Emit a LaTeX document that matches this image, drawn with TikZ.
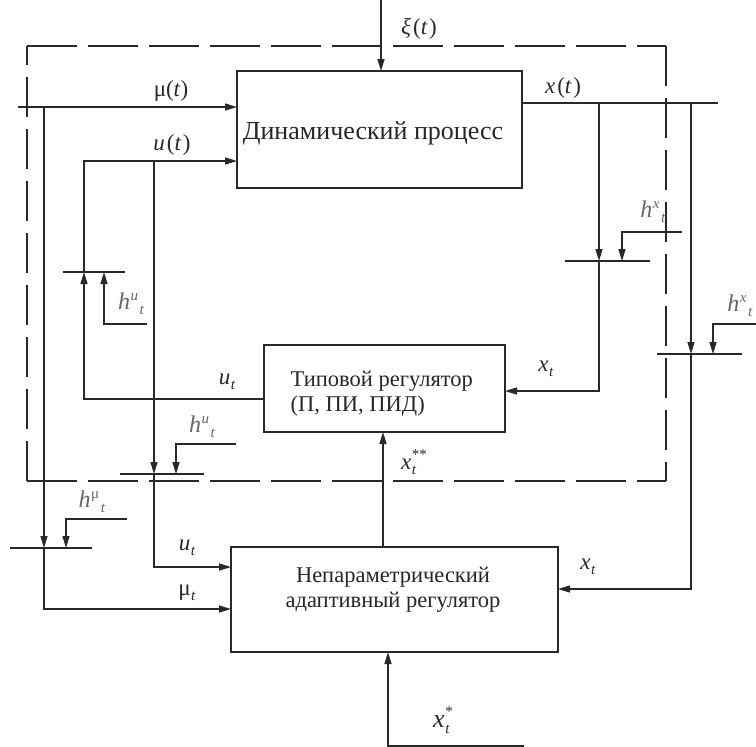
\documentclass[tikz,border=0pt]{standalone}
\usepackage{fontspec}
\setmainfont{Liberation Serif}
\usetikzlibrary{arrows.meta}
\newcommand\smallfnt{\fontsize{15}{15}\selectfont}
\newcommand\hsym[1]{\textit{h}\kern0.5pt\raisebox{0.8ex}{\smallfnt\textit{#1}}\kern1.5pt\raisebox{-0.45ex}{\smallfnt\textit{t}}}
\newcommand\subt[1]{#1\kern0.5pt\raisebox{-0.45ex}{\smallfnt\textit{t}}}
\newcommand\stk[2]{#1\kern0.5pt\rlap{\raisebox{-0.5ex}{\smallfnt\textit{t}}}\raisebox{0.95ex}{\smallfnt #2}}
\newcommand\fn[2]{#1\kern2pt(\textit{#2}\kern1.5pt)}
\definecolor{ln}{RGB}{40,40,40}
\tikzset{
  blk/.style={draw=ln, line width=1.4pt, inner sep=0pt, outer sep=0pt},
  arr/.style={-{Triangle[length=12pt,width=7pt]}},
  lbl/.style={font=\fontsize{23}{25}\selectfont, inner sep=0pt, text=ln},
  hl/.style={font=\fontsize{24}{26}\selectfont, inner sep=0pt, text=black!60},
  btxt/.style={inner sep=0pt, align=center, text=black!85},
  hdash/.style={dash pattern=on 50pt off 11pt},
  vdash/.style={dash pattern=on 40pt off 12pt}
}
\begin{document}
\begin{tikzpicture}[x=1pt,y=-1pt,line width=1.4pt,draw=ln,color=ln]
\useasboundingbox (0,0) rectangle (756,747);
% dashed frame
\draw[hdash] (27,46) -- (666,46);
\draw[vdash] (666,46) -- (666,481);
\draw[hdash] (27,481) -- (666,481);
\draw[vdash] (27,481) -- (27,46);
% blocks
\node[blk, minimum width=285pt, minimum height=117pt] (dp) at (379.5,129.5) {};
\node[blk, minimum width=241pt, minimum height=87pt] (tr) at (384.5,388.5) {};
\node[blk, minimum width=327pt, minimum height=105pt] (np) at (394.5,599.5) {};
\node[btxt, font=\fontsize{26}{28}\selectfont] (dpt) at (373,133) {Динамический процесс};
\node[btxt, align=left, anchor=north west, font=\fontsize{22.5}{25}\selectfont] (trt) at (290,370) {Типовой регулятор\\(П, ПИ, ПИД)};
\node[btxt, font=\fontsize{22.5}{25}\selectfont] (npt) at (393,590) {Непараметрический\\адаптивный регулятор};
% coordinates
\coordinate (xi0) at (381,0);
\coordinate (muS) at (18,107);
\coordinate (muJ) at (44,107);
\coordinate (muB) at (44,548);
\coordinate (muBl) at (10,548);
\coordinate (muBr) at (92,548);
\coordinate (hmuS) at (127,519);
\coordinate (hmuK) at (66,519);
\coordinate (muK) at (44,609);
\coordinate (uK1) at (84,399);
\coordinate (uB1) at (84,272);
\coordinate (uB1l) at (63,272);
\coordinate (uB1r) at (125,272);
\coordinate (uT) at (84,161);
\coordinate (uJ) at (154,161);
\coordinate (uB2) at (154,474);
\coordinate (uB2l) at (120,474);
\coordinate (uB2r) at (204,474);
\coordinate (uK2) at (154,567);
\coordinate (huS1) at (147,324);
\coordinate (huK1) at (104,324);
\coordinate (huS2) at (236,444);
\coordinate (huK2) at (176,444);
\coordinate (xE) at (718,103);
\coordinate (xJ1) at (599,103);
\coordinate (xB1) at (599,261);
\coordinate (xB1l) at (565,261);
\coordinate (xB1r) at (650,261);
\coordinate (hxS1) at (682,232);
\coordinate (hxK1) at (622,232);
\coordinate (xK1) at (599,391);
\coordinate (xJ2) at (691,103);
\coordinate (xB2) at (691,354);
\coordinate (xB2l) at (657,354);
\coordinate (xB2r) at (742,354);
\coordinate (hxS2) at (756,324);
\coordinate (hxK2) at (713,324);
\coordinate (xK2) at (691,589);
\coordinate (xsE) at (524,746);
\coordinate (xsK) at (388,746);
\coordinate (xss) at (383,547);
% connectors
\draw[arr] (xi0) -- (xi0 |- dp.north);
\draw[arr] (muS) -- (muS -| dp.west);
\draw[arr] (muJ) -- (muB);
\draw (muBl) -- (muBr);
\draw[arr] (hmuS) -- (hmuK) -- (hmuK |- muB);
\draw[arr] (muB) -- (muK) -- (muK -| np.west);
\draw[arr] (uK1 -| tr.west) -- (uK1) -- (uB1);
\draw (uB1l) -- (uB1r);
\draw[arr] (huS1) -- (huK1) -- (huK1 |- uB1);
\draw[arr] (uB1) -- (uT) -- (uT -| dp.west);
\draw[arr] (uJ) -- (uB2);
\draw (uB2l) -- (uB2r);
\draw[arr] (huS2) -- (huK2) -- (huK2 |- uB2);
\draw[arr] (uB2) -- (uK2) -- (uK2 -| np.west);
\draw (xE -| dp.east) -- (xE);
\draw[arr] (xJ1) -- (xB1);
\draw (xB1l) -- (xB1r);
\draw[arr] (hxS1) -- (hxK1) -- (hxK1 |- xB1);
\draw[arr] (xB1) -- (xK1) -- (xK1 -| tr.east);
\draw[arr] (xJ2) -- (xB2);
\draw (xB2l) -- (xB2r);
\draw[arr] (hxS2) -- (hxK2) -- (hxK2 |- xB2);
\draw[arr] (xB2) -- (xK2) -- (xK2 -| np.east);
\draw[arr] (xss |- np.north) -- (xss |- tr.south);
\draw[arr] (xsE) -- (xsK) -- (xsK |- np.south);
% labels
\node[lbl] (lxi) at (419,29) {\fn{\textit{ξ}}{t}};
\node[lbl] (lmu) at (171,91) {μ(\textit{t})};
\node[lbl] (lu) at (172,145) {\fn{\textit{u}}{t}};
\node[lbl] (lx) at (563,88) {\fn{\textit{x}}{t}};
\node[hl] (lhx1) at (653,212) {\hsym{x}};
\node[lbl] (lxt1) at (546,369) {\subt{\textit{x}}};
\node[hl] (lhx2) at (740,306) {\hsym{x}};
\node[lbl] (lut1) at (227,382) {\subt{\textit{u}}};
\node[hl] (lhu1) at (131,304) {\hsym{u}};
\node[hl] (lhu2) at (202,427) {\hsym{u}};
\node[hl] (lhmu) at (92,502) {\hsym{\upshape μ}};
\node[lbl] (lut2) at (187,548) {\subt{\textit{u}}};
\node[lbl] (lmut) at (187,593) {\subt{μ}};
\node[lbl] (lxss) at (414,462) {\stk{\textit{x}}{**}};
\node[lbl] (lxt2) at (588,567) {\subt{\textit{x}}};
\node[lbl, font=\fontsize{26}{28}\selectfont] (lxs) at (443,720) {\stk{\textit{x}}{*}};
\end{tikzpicture}
\end{document}
